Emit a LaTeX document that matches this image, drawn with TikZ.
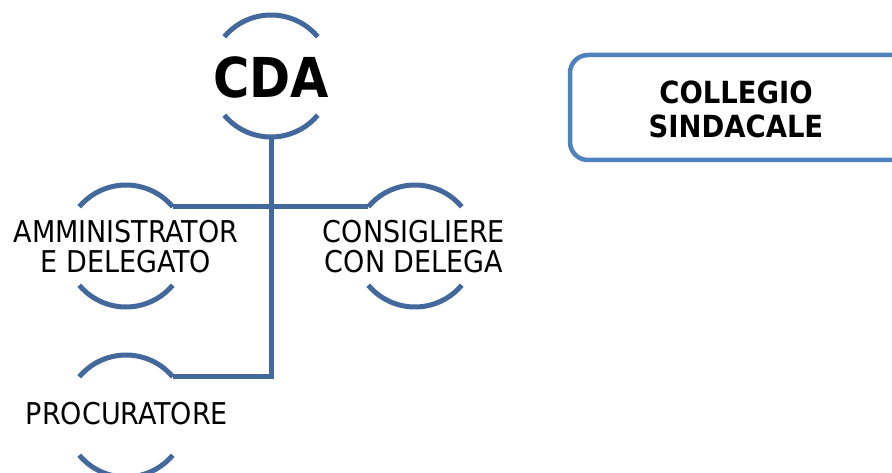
\documentclass[tikz,border=0pt]{standalone}
\usepackage{fontspec}
\setmainfont{DejaVu Sans Condensed}
\definecolor{treeblue}{HTML}{43689C}
\definecolor{boxblue}{HTML}{4F81BD}
\begin{document}
\begin{tikzpicture}[x=1pt,y=1pt,
  ring/.style={circle,minimum size=122pt,inner sep=0pt,outer sep=0pt,draw=none},
  arcline/.style={draw=treeblue,line width=5pt},
  tree/.style={draw=treeblue,line width=5pt},
  lbl/.style={align=center,text=black,font=\fontsize{30}{30}\selectfont,inner sep=0pt},
  boxlbl/.style={align=center,text=black,font=\bfseries\fontsize{30.5}{34}\selectfont,inner sep=0pt}]
\useasboundingbox (0,0) rectangle (892,-473);
\clip (0,0) rectangle (892,-473);
% circles (only arcs drawn)
\node[ring] (cda) at (271,-76) {};
\node[ring] (am) at (126,-246) {};
\node[ring] (co) at (415,-246) {};
\node[ring] (pr) at (126,-416) {};
\foreach \n in {cda,am,co,pr}{
  \draw[arcline] (\n.40) arc[start angle=40,end angle=140,radius=61pt];
  \draw[arcline] (\n.220) arc[start angle=220,end angle=320,radius=61pt];
}
% connectors
\draw[tree] (cda.south) |- (pr.40);
\draw[tree] (am.40) -- (co.140);
% labels
\node[inner sep=0pt,font=\bfseries\fontsize{55}{55}\selectfont] (cdaT) at (271,-77) {CDA};
\node[lbl] (amT) at (126,-247) {AMMINISTRATOR\\E DELEGATO};
\node[lbl] (coT) at (414,-247) {CONSIGLIERE\\CON DELEGA};
\node[lbl] (prT) at (127,-414) {PROCURATORE};
% collegio sindacale
\draw[draw=boxblue,line width=4.5pt,rounded corners=18pt] (570,-55) rectangle (930,-160);
\node[boxlbl] (cs) at (736,-109) {COLLEGIO\\SINDACALE};
\end{tikzpicture}
\end{document}
